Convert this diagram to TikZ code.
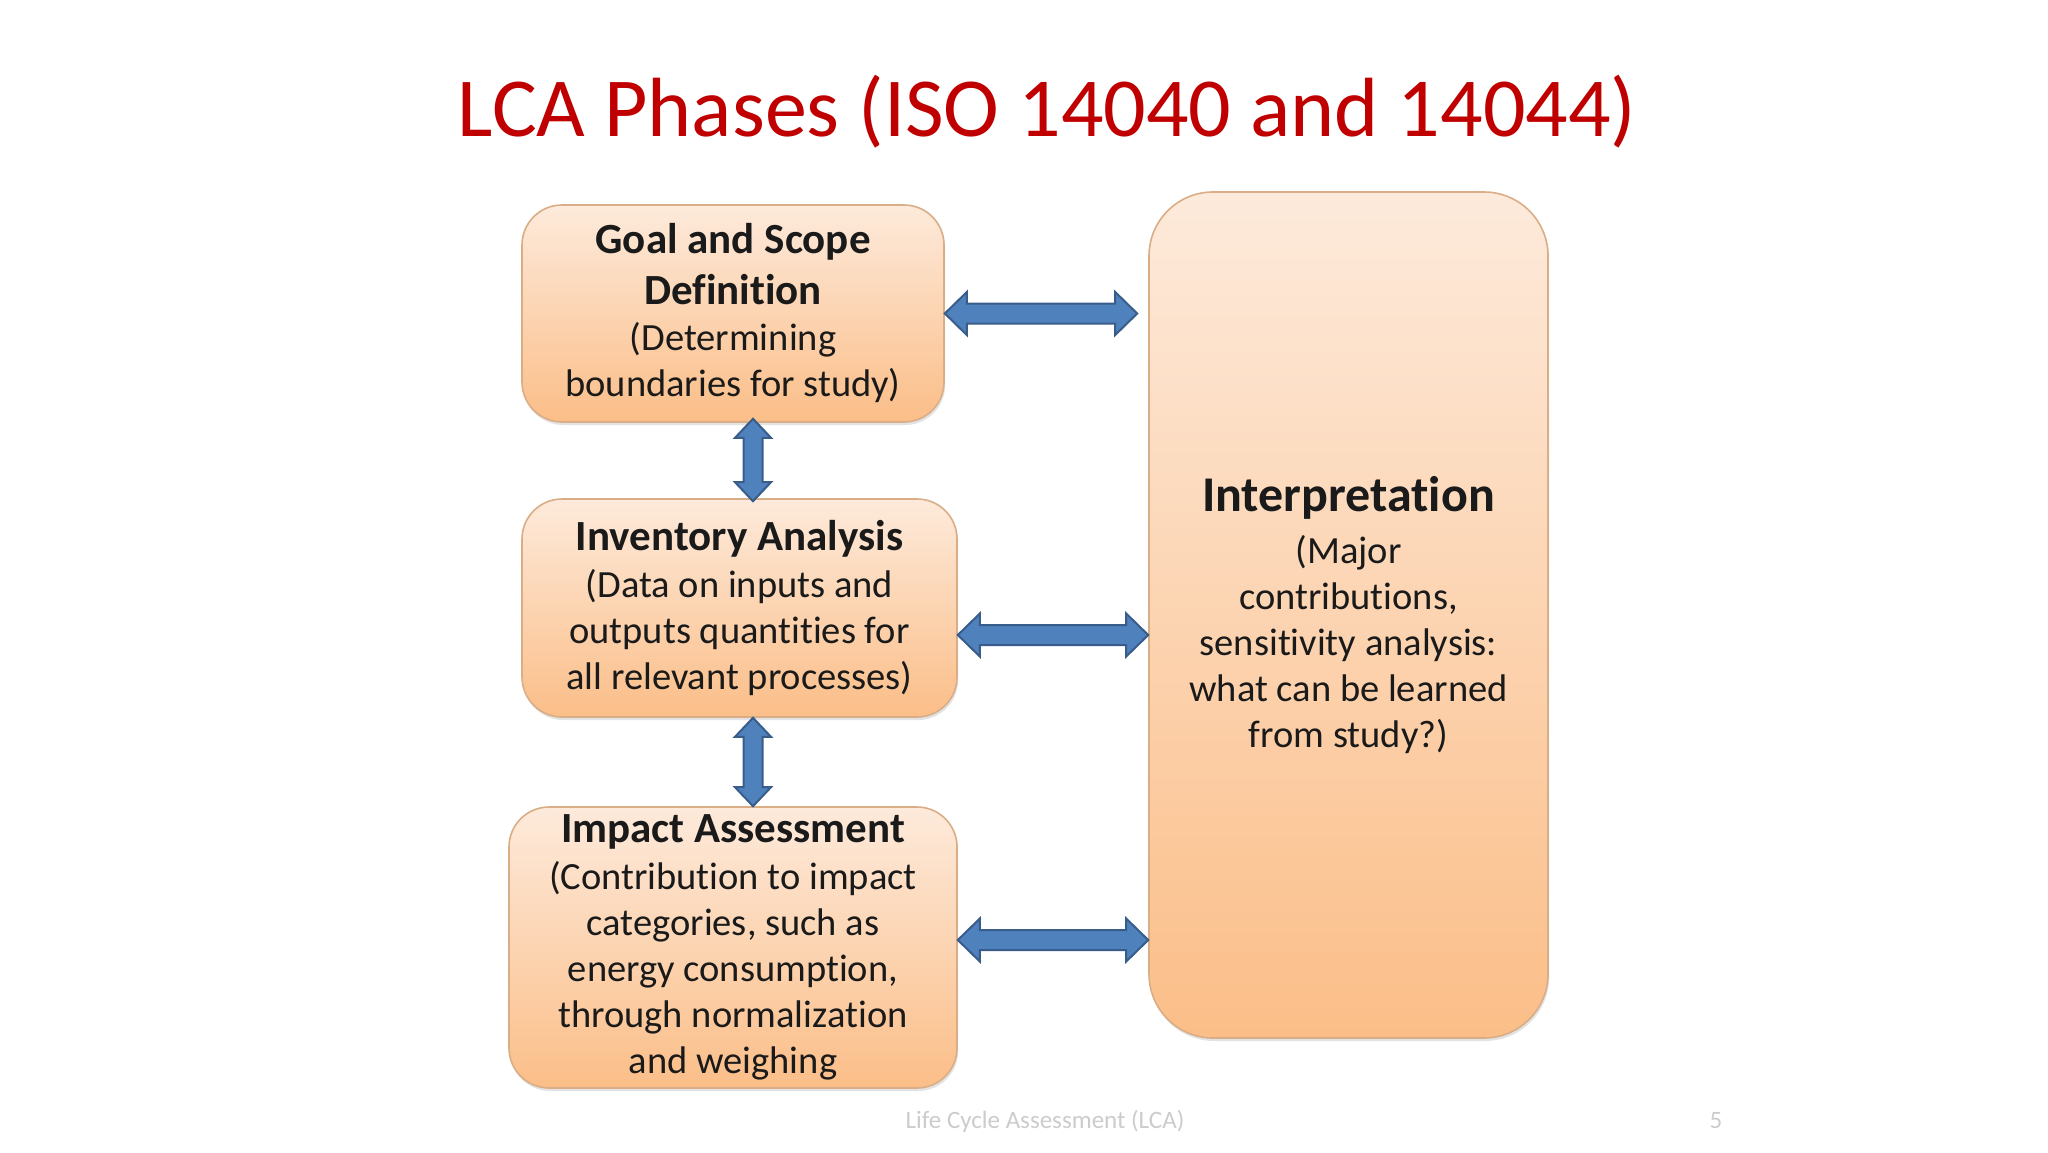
\documentclass[tikz,border=0pt]{standalone}
\usepackage{fontspec}
\setmainfont{Carlito}[Ligatures={NoCommon}]
\usetikzlibrary{shadows,calc}
\definecolor{titlered}{HTML}{C00000}
\definecolor{peachtop}{HTML}{FDEADB}
\definecolor{peachbot}{HTML}{FBBE88}
\definecolor{peachedge}{HTML}{D9AD86}
\definecolor{arrowfill}{HTML}{4F81BD}
\definecolor{arrowedge}{HTML}{385D8A}
\definecolor{textdark}{HTML}{1A1A1A}
\tikzset{
  phase/.style={rectangle, rounded corners=20pt, draw=peachedge, line width=0.8pt,
    top color=peachtop, bottom color=peachbot, inner sep=0pt, align=center,
    text=textdark, font=\fontsize{19.25}{23}\selectfont,
    drop shadow={shadow xshift=0.6pt, shadow yshift=-1.5pt, opacity=0.22}},
  blockarrow/.style={fill=arrowfill, draw=arrowedge, line width=1pt, line join=miter},
}
\newcommand\phasehead[1]{{\bfseries\fontsize{21.5}{25}\selectfont #1}}
\newcommand\lcaHarrow[2]{%
  \draw[blockarrow] let \p1=(#1), \p2=(#2) in
  (\x1,\y1) -- (\x1+11pt,\y1+10.75pt) -- (\x1+11pt,\y1+5pt) -- (\x2-11pt,\y1+5pt)
  -- (\x2-11pt,\y1+10.75pt) -- (\x2,\y1) -- (\x2-11pt,\y1-10.75pt) -- (\x2-11pt,\y1-5pt)
  -- (\x1+11pt,\y1-5pt) -- (\x1+11pt,\y1-10.75pt) -- cycle;}
\newcommand\lcaVarrow[2]{%
  \draw[blockarrow] let \p1=(#1), \p2=(#2) in
  (\x1,\y1) -- (\x1+9pt,\y1-9.5pt) -- (\x1+4.75pt,\y1-9.5pt) -- (\x1+4.75pt,\y2+9.5pt)
  -- (\x1+9pt,\y2+9.5pt) -- (\x1,\y2) -- (\x1-9pt,\y2+9.5pt) -- (\x1-4.75pt,\y2+9.5pt)
  -- (\x1-4.75pt,\y1-9.5pt) -- (\x1-9pt,\y1-9.5pt) -- cycle;}
\begin{document}
\begin{tikzpicture}[x=0.5pt,y=-0.5pt]
\useasboundingbox (0,0) rectangle (2048,1152);
\fill[white] (0,0) rectangle (2048,1152);

\node[font=\fontsize{42}{50}\selectfont, text=titlered, anchor=base] (title) at (1047,136) {LCA Phases (ISO 14040 and 14044)};

\node[phase, minimum width=211pt, minimum height=108.5pt] (goal) at (733,313.5)
  {\phasehead{Goal and Scope}\\[2.5pt]\phasehead{Definition}\\(Determining\\boundaries for study)};
\node[phase, minimum width=217.5pt, minimum height=109pt] (inv) at (739.5,608)
  {\phasehead{Inventory Analysis}\\[0.5pt](Data on inputs and\\outputs quantities for\\all relevant processes)};
\node[phase, minimum width=224pt, minimum height=140.5pt] (impact) at (733,947.5)
  {\phasehead{Impact Assessment}\\[0.5pt](Contribution to impact\\categories, such as\\energy consumption,\\through normalization\\and weighing};
\node[phase, rounded corners=32pt, minimum width=199.5pt, minimum height=423pt] (interp) at (1348.5,615)
  {{\bfseries\fontsize{25}{30}\selectfont Interpretation}\\[3pt](Major\\contributions,\\sensitivity analysis:\\what can be learned\\from study?)};

\coordinate (a1s) at (goal.east);
\coordinate (a1e) at ([xshift=-5.5pt]interp.west |- goal.east);
\lcaHarrow{a1s}{a1e}
\coordinate (a2s) at ([yshift=-13.5pt]inv.east);
\coordinate (a2e) at (interp.west |- a2s);
\lcaHarrow{a2s}{a2e}
\coordinate (a3s) at ([yshift=3.75pt]impact.east);
\coordinate (a3e) at (interp.west |- a3s);
\lcaHarrow{a3s}{a3e}

\coordinate (v1s) at ([xshift=10pt,yshift=2pt]goal.south);
\coordinate (v1e) at ([yshift=-1.5pt]v1s |- inv.north);
\lcaVarrow{v1s}{v1e}
\coordinate (v2s) at ([xshift=6.75pt]inv.south);
\coordinate (v2e) at (v2s |- impact.north);
\lcaVarrow{v2s}{v2e}

\node[text=black!20, font=\fontsize{12.5}{14}\selectfont] (footer) at (1045,1121) {Life Cycle Assessment (LCA)};
\node[text=black!20, font=\fontsize{12.5}{14}\selectfont] (pagenum) at (1716,1121) {5};
\end{tikzpicture}
\end{document}
